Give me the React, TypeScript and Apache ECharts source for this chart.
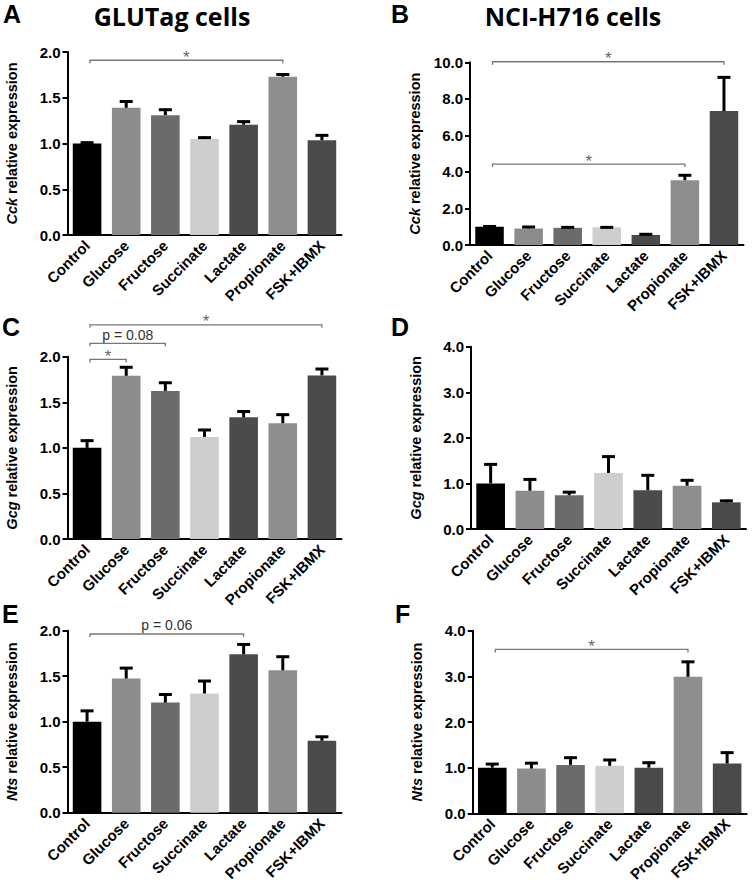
import React, { useEffect, useRef } from "react";
import * as echarts from "echarts";

const categories = ["Control", "Glucose", "Fructose", "Succinate", "Lactate", "Propionate", "FSK+IBMX"];
const barColors = ["#000000", "#8c8c8c", "#6b6b6b", "#cecece", "#4b4b4b", "#8e8e8e", "#4a4a4a"];

// A: Cck, GLUTag
const cckGlutagMean = [1.0, 1.39, 1.31, 1.05, 1.205, 1.73, 1.035];
const cckGlutagSem = [0.02, 0.08, 0.07, 0.025, 0.045, 0.035, 0.065];
// B: Cck, NCI-H716
const cckH716Mean = [1.0, 0.9, 0.94, 0.97, 0.55, 3.55, 7.33];
const cckH716Sem = [0.07, 0.14, 0.08, 0.05, 0.09, 0.32, 1.9];
// C: Gcg, GLUTag
const gcgGlutagMean = [1.0, 1.79, 1.625, 1.12, 1.335, 1.27, 1.795];
const gcgGlutagSem = [0.09, 0.105, 0.1, 0.087, 0.075, 0.105, 0.081];
// D: Gcg, NCI-H716
const gcgH716Mean = [1.0, 0.84, 0.74, 1.23, 0.85, 0.95, 0.585];
const gcgH716Sem = [0.44, 0.27, 0.09, 0.38, 0.35, 0.14, 0.055];
// E: Nts, GLUTag
const ntsGlutagMean = [1.0, 1.475, 1.21, 1.31, 1.74, 1.565, 0.79];
const ntsGlutagSem = [0.13, 0.125, 0.1, 0.148, 0.12, 0.16, 0.055];
// F: Nts, NCI-H716
const ntsH716Mean = [1.0, 0.98, 1.06, 1.04, 1.0, 2.99, 1.09];
const ntsH716Sem = [0.1, 0.14, 0.18, 0.15, 0.13, 0.35, 0.26];

// significance brackets: [fromIndex, toIndex, yValue, label]
const cckGlutagBrackets: [number, number, number, string][] = [[0, 5, 1.91, "*"]];
const cckH716Brackets: [number, number, number, string][] = [[0, 6, 10.03, "*"], [0, 5, 4.43, "*"]];
const gcgGlutagBrackets: [number, number, number, string][] = [
  [0, 6, 2.35, "*"],
  [0, 2, 2.147, "p = 0.08"],
  [0, 1, 1.97, "*"],
];
const gcgH716Brackets: [number, number, number, string][] = [];
const ntsGlutagBrackets: [number, number, number, string][] = [[0, 4, 1.964, "p = 0.06"]];
const ntsH716Brackets: [number, number, number, string][] = [[0, 5, 3.59, "*"]];

const yMax = [2, 10, 2, 4, 2, 4];
const yInterval = [0.5, 2, 0.5, 1, 0.5, 1];
const genes = ["Cck", "Cck", "Gcg", "Gcg", "Nts", "Nts"];

const FONT = "Arial, Liberation Sans, Helvetica, sans-serif";
const TITLE_FONT = "Open Sans, sans-serif";

export default function App() {
  const ref = useRef<HTMLDivElement>(null);

  useEffect(() => {
    if (!ref.current) return;
    const chart = echarts.init(ref.current, undefined, { renderer: "svg" });

    const means = [cckGlutagMean, cckH716Mean, gcgGlutagMean, gcgH716Mean, ntsGlutagMean, ntsH716Mean];
    const sems = [cckGlutagSem, cckH716Sem, gcgGlutagSem, gcgH716Sem, ntsGlutagSem, ntsH716Sem];
    const brackets = [cckGlutagBrackets, cckH716Brackets, gcgGlutagBrackets, gcgH716Brackets, ntsGlutagBrackets, ntsH716Brackets];

    const grids = [
      { left: 67.5, top: 52, width: 274, height: 183 },
      { left: 470, top: 62.3, width: 273.5, height: 182.7 },
      { left: 67.5, top: 356.7, width: 274, height: 182.3 },
      { left: 471, top: 346.7, width: 275, height: 182.3 },
      { left: 67.5, top: 630.7, width: 274, height: 182 },
      { left: 472.7, top: 630.7, width: 274, height: 182.6 },
    ];

    const series: any[] = [];
    for (let i = 0; i < 6; i++) {
      series.push({
        type: "bar",
        xAxisIndex: i,
        yAxisIndex: i,
        barWidth: "73%",
        z: 2,
        data: means[i].map((v, j) => ({ value: v, itemStyle: { color: barColors[j] } })),
      });
      const m = means[i];
      const s = sems[i];
      series.push({
        type: "custom",
        xAxisIndex: i,
        yAxisIndex: i,
        z: 3,
        clip: false,
        data: m.map((v, j) => [j, v, s[j]]),
        renderItem: (params: any, api: any) => {
          const x = api.value(0);
          const mv = api.value(1);
          const e = api.value(2);
          const p0 = api.coord([x, mv]);
          const p1 = api.coord([x, mv + e]);
          return {
            type: "group",
            children: [
              { type: "line", shape: { x1: p0[0], y1: p0[1], x2: p1[0], y2: p1[1] }, style: { stroke: "#000", lineWidth: 3 } },
              { type: "line", shape: { x1: p1[0] - 6.5, y1: p1[1] + 1, x2: p1[0] + 6.5, y2: p1[1] + 1 }, style: { stroke: "#000", lineWidth: 3 } },
            ],
          };
        },
      });
      const br = brackets[i];
      if (br.length) {
        series.push({
          type: "custom",
          xAxisIndex: i,
          yAxisIndex: i,
          z: 4,
          clip: false,
          data: br.map((b) => [b[0], b[2], b[1]]),
          renderItem: (params: any, api: any) => {
            const b = br[params.dataIndex];
            const pa = api.coord([b[0], b[2]]);
            const pb = api.coord([b[1], b[2]]);
            const xa = pa[0] + 3;
            const xb = pb[0];
            const y = pa[1];
            const isStar = b[3] === "*";
            return {
              type: "group",
              children: [
                {
                  type: "polyline",
                  shape: { points: [[xa, y + 3], [xa, y], [xb, y], [xb, y + 3]] },
                  style: { stroke: "#777", lineWidth: 1.3, fill: null },
                },
                {
                  type: "text",
                  x: (xa + xb) / 2,
                  y: isStar ? y - 3 : y - 8.5,
                  style: {
                    text: b[3],
                    align: "center",
                    verticalAlign: "middle",
                    fontSize: isStar ? 17 : 14,
                    fontFamily: FONT,
                    fill: isStar ? "#666" : "#333",
                  },
                },
              ],
            };
          },
        });
      }
    }

    const nameStyle = { fontSize: 14.5, fontWeight: "bold", fontFamily: FONT, color: "#000" };
    const letter = (t: string, x: number, y: number) => ({
      type: "text",
      x,
      y,
      style: { text: t, fontSize: 25, fontWeight: "bold", fontFamily: FONT, fill: "#000", verticalAlign: "middle", lineHeight: 26 },
    });
    const title = (t: string, x: number) => ({
      type: "text",
      x,
      y: 16,
      style: { text: t, fontSize: 25, fontWeight: "bold", fontFamily: TITLE_FONT, fill: "#000", align: "center", verticalAlign: "middle", lineHeight: 27 },
    });

    const option: any = {
      animation: false,
      backgroundColor: "#ffffff",
      grid: grids,
      xAxis: grids.map((g, i) => ({
        type: "category",
        gridIndex: i,
        data: categories,
        axisLine: { lineStyle: { color: "#000", width: 2 } },
        axisTick: { alignWithLabel: true, length: 5, lineStyle: { color: "#000", width: 2 } },
        axisLabel: { rotate: 45, interval: 0, margin: 8, color: "#000", fontWeight: "bold", fontSize: 15, fontFamily: FONT },
      })),
      yAxis: grids.map((g, i) => ({
        type: "value",
        gridIndex: i,
        min: 0,
        max: yMax[i],
        interval: yInterval[i],
        axisLine: { show: true, lineStyle: { color: "#000", width: 2 } },
        axisTick: { show: true, length: 5, lineStyle: { color: "#000", width: 2 } },
        splitLine: { show: false },
        axisLabel: {
          formatter: (v: number) => v.toFixed(1),
          color: "#000",
          fontWeight: "bold",
          fontSize: 15,
          fontFamily: FONT,
          margin: 7,
        },
        name: `{i|${genes[i]}} relative expression`,
        nameLocation: "middle",
        nameGap: 48,
        nameTextStyle: {
          ...nameStyle,
          rich: { i: { ...nameStyle, fontStyle: "italic" } },
        },
      })),
      series,
      graphic: [
        letter("A", 3, 14),
        letter("B", 391, 14),
        letter("C", 2, 327),
        letter("D", 391, 327),
        letter("E", 2, 614),
        letter("F", 395, 614),
        title("GLUTag cells", 172),
        title("NCI-H716 cells", 573),
      ],
    };

    chart.setOption(option);
    return () => chart.dispose();
  }, []);

  return (
    <div
      ref={ref}
      style={{ position: "absolute", left: 0, top: 0, width: 752, height: 885, background: "#fff" }}
    />
  );
}
